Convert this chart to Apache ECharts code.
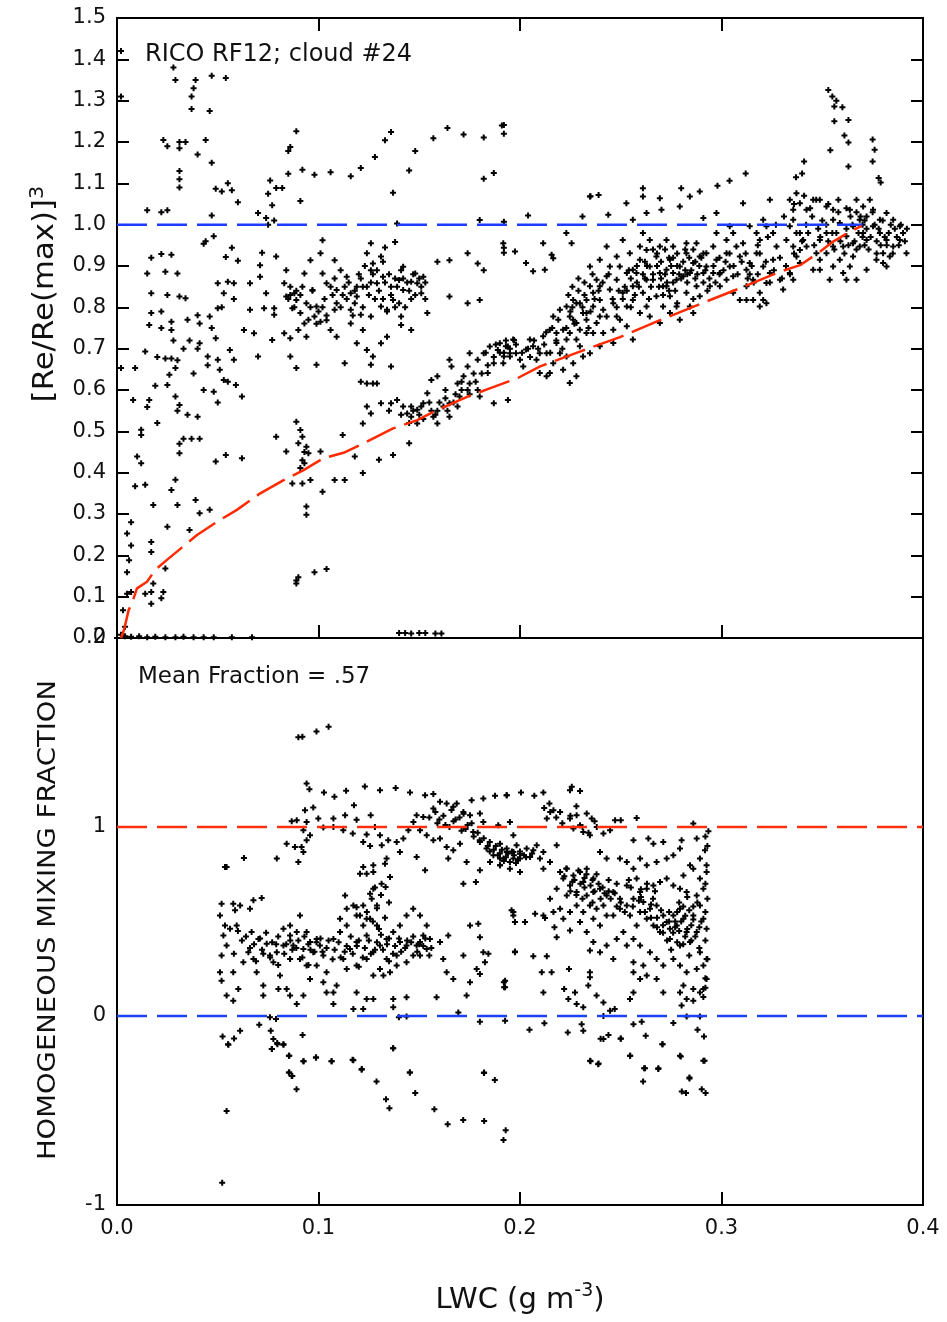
<!DOCTYPE html>
<html>
<head>
<meta charset="utf-8">
<script src="https://cdn.jsdelivr.net/npm/echarts@6/dist/echarts.min.js"></script>
<style>
  html, body { margin: 0; padding: 0; background: #fff; }
  #chart { width: 947px; height: 1322px; }
</style>
</head>
<body>
<div id="chart"></div>
<script>
// ---- data (LWC in g m-3) ----

// top panel: [Re/Re(max)]^3
var topHighOutliers = [
  [0.002,1.42],[0.002,1.31],[0.028,1.38],[0.029,1.35],[0.039,1.35],[0.038,1.33],[0.037,1.31],[0.037,1.28],
  [0.047,1.36],[0.054,1.355],[0.046,1.275],[0.023,1.205],[0.025,1.19],[0.031,1.2],[0.034,1.2],[0.031,1.185],
  [0.044,1.205],[0.040,1.17],[0.047,1.15],[0.031,1.13],[0.031,1.11],[0.031,1.09],[0.049,1.087],[0.052,1.08],
  [0.055,1.1],[0.057,1.083],[0.060,1.054],[0.015,1.035],[0.022,1.03],[0.025,1.035],[0.047,1.022],[0.070,1.028],
  [0.074,1.016],[0.078,1.01],[0.075,1.0],[0.075,1.075],[0.077,1.047],[0.076,1.107],[0.079,1.089],[0.082,1.089],
  [0.085,1.123],[0.085,1.178],[0.086,1.188],[0.089,1.226],[0.092,1.133],[0.091,1.057],[0.098,1.121],[0.106,1.127],
  [0.116,1.117],[0.121,1.137],[0.128,1.164],[0.133,1.204],[0.136,1.224],[0.137,1.077],[0.145,1.131],[0.148,1.178],
  [0.157,1.209],[0.164,1.234],[0.172,1.218],[0.182,1.211],[0.182,1.111],[0.187,1.125],[0.191,1.24],[0.192,1.22],
  [0.180,1.011],[0.192,1.007],[0.204,1.022],[0.192,0.944],[0.192,0.932],[0.139,1.003],
  [0.353,1.326],[0.355,1.31],[0.357,1.30],[0.356,1.286],[0.360,1.284],[0.356,1.25],[0.363,1.253],[0.361,1.216],
  [0.363,1.199],[0.354,1.18],[0.363,1.141],[0.375,1.206],[0.376,1.181],[0.375,1.153],[0.378,1.113],[0.379,1.102],
  [0.341,1.153],[0.340,1.124],[0.337,1.115],[0.312,1.124],[0.304,1.106],[0.298,1.094],[0.280,1.088],[0.261,1.088],
  [0.235,1.069],[0.192,1.241]
];
var topNearZero = [
  [0.0,0.0],[0.002,0.008],[0.004,0.004],[0.007,0.003],[0.011,0.004],[0.015,0.002],[0.019,0.003],[0.024,0.002],
  [0.029,0.002],[0.033,0.003],[0.038,0.002],[0.043,0.002],[0.048,0.002],[0.057,0.002],[0.067,0.002],
  [0.140,0.012],[0.143,0.012],[0.146,0.011],[0.150,0.012],[0.153,0.012],[0.158,0.011],[0.161,0.011]
];
var topLeftScatter = [
  [0.002,0.653],[0.009,0.653],[0.015,0.882],[0.017,0.834],[0.017,0.786],[0.016,0.757],[0.022,0.79],[0.025,0.83],
  [0.024,0.886],[0.030,0.882],[0.027,0.765],[0.022,0.75],[0.027,0.745],[0.031,0.826],[0.034,0.822],[0.014,0.693],
  [0.024,0.676],[0.027,0.676],[0.030,0.672],[0.029,0.653],[0.026,0.637],[0.025,0.612],[0.029,0.584],[0.031,0.564],
  [0.035,0.54],[0.040,0.535],[0.031,0.47],[0.033,0.482],[0.037,0.482],[0.041,0.482],[0.031,0.447],[0.029,0.383],
  [0.027,0.358],[0.030,0.322],[0.025,0.269],[0.036,0.261],[0.039,0.334],[0.041,0.302],[0.046,0.31],[0.012,0.504],
  [0.012,0.491],[0.010,0.439],[0.012,0.423],[0.008,0.576],[0.016,0.576],[0.015,0.559],[0.020,0.52],[0.014,0.371],
  [0.009,0.367],[0.018,0.322],[0.007,0.28],[0.005,0.253],[0.007,0.224],[0.006,0.188],[0.005,0.159],[0.017,0.232],
  [0.017,0.208],[0.024,0.168],[0.005,0.107],[0.007,0.111],[0.003,0.067],[0.004,0.027],[0.014,0.107],[0.017,0.111],
  [0.017,0.083],[0.023,0.111],[0.022,0.096],[0.018,0.132],
  [0.017,0.92],[0.022,0.929],[0.027,0.927],[0.043,0.954],[0.044,0.96],[0.048,0.972],[0.057,0.944],[0.054,0.922],
  [0.072,0.932],[0.060,0.913],[0.036,0.72],[0.040,0.70],[0.045,0.66],[0.033,0.70],[0.038,0.64],[0.043,0.60],
  [0.050,0.57],[0.055,0.62],[0.047,0.75],[0.052,0.80],[0.058,0.82],[0.035,0.77],[0.028,0.72],[0.020,0.68],
  [0.019,0.61],[0.030,0.55]
];
var topUpperCluster = [
  [0.040,0.781],[0.041,0.761],[0.046,0.778],[0.050,0.798],[0.053,0.834],[0.050,0.858],[0.055,0.862],[0.041,0.713],
  [0.045,0.681],[0.049,0.725],[0.050,0.673],[0.051,0.649],[0.053,0.624],[0.056,0.697],[0.058,0.673],[0.059,0.612],
  [0.062,0.584],[0.048,0.596],[0.063,0.745],[0.066,0.794],[0.068,0.737],[0.070,0.681],[0.071,0.902],[0.073,0.798],
  [0.078,0.798],[0.077,0.721],[0.079,0.923],[0.083,0.858],[0.084,0.89],[0.086,0.85],[0.084,0.826],[0.088,0.834],
  [0.089,0.818],[0.087,0.798],[0.091,0.786],[0.093,0.761],[0.083,0.737],[0.086,0.725],[0.090,0.745],[0.098,0.778],
  [0.099,0.802],[0.101,0.765],[0.097,0.842],[0.104,0.858],[0.102,0.882],[0.108,0.914],[0.109,0.842],[0.106,0.745],
  [0.109,0.729],[0.114,0.874],[0.116,0.834],[0.119,0.826],[0.118,0.81],[0.122,0.85],[0.126,0.89],[0.127,0.906],
  [0.131,0.923],[0.132,0.874],[0.129,0.858],[0.136,0.85],[0.140,0.866],[0.142,0.842],[0.146,0.862],[0.149,0.858],
  [0.152,0.874],[0.151,0.834],[0.154,0.786],[0.141,0.778],[0.141,0.757],[0.146,0.745],[0.131,0.802],[0.126,0.778],
  [0.122,0.745],[0.119,0.713],[0.124,0.697],[0.127,0.681],[0.131,0.713],[0.134,0.729],[0.126,0.661],[0.136,0.657],
  [0.113,0.665],[0.099,0.661],[0.089,0.653],[0.086,0.681],[0.078,0.782],[0.071,0.874],[0.074,0.834],[0.066,0.858],
  [0.058,0.858],[0.165,0.826],[0.174,0.81],[0.180,0.818],[0.182,0.89],[0.179,0.906],[0.159,0.91],[0.174,0.931],
  [0.165,0.914],[0.142,0.898],[0.148,0.882],[0.116,0.794],[0.108,0.794],[0.104,0.769],[0.094,0.729],[0.116,0.761],
  [0.121,0.782],[0.134,0.794],[0.137,0.818],[0.111,0.89],[0.093,0.882],[0.096,0.914],[0.101,0.931],[0.124,0.931],
  [0.102,0.962],[0.126,0.955],[0.133,0.945],[0.138,0.958],
  [0.085,0.82],[0.088,0.80],[0.091,0.83],[0.094,0.81],[0.097,0.84],[0.100,0.79],[0.103,0.82],[0.106,0.85],
  [0.109,0.81],[0.112,0.83],[0.115,0.86],[0.118,0.84],[0.121,0.87],[0.124,0.85],[0.127,0.88],[0.130,0.84],
  [0.133,0.86],[0.136,0.83],[0.139,0.85],[0.142,0.87],[0.145,0.84],[0.148,0.83],[0.151,0.85],[0.153,0.82],
  [0.140,0.81],[0.134,0.79],[0.128,0.82],[0.122,0.80],[0.117,0.78],[0.095,0.77],[0.099,0.76],[0.104,0.78],
  [0.120,0.88],[0.123,0.90],[0.126,0.86],[0.129,0.89],[0.132,0.91],[0.135,0.88],[0.138,0.87],[0.141,0.89],
  [0.144,0.86],[0.147,0.88],[0.150,0.87],[0.153,0.86],[0.146,0.82],[0.143,0.80],[0.138,0.80],[0.132,0.82],
  [0.125,0.83],[0.119,0.85],[0.113,0.85],[0.108,0.87],[0.092,0.85],[0.089,0.84],[0.086,0.83],[0.096,0.80],
  [0.102,0.80],[0.107,0.83],[0.111,0.80],[0.114,0.82]
];
var topStreak = [
  [0.089,0.523],[0.091,0.503],[0.092,0.487],[0.090,0.471],[0.094,0.463],[0.095,0.447],[0.093,0.423],[0.091,0.411],
  [0.087,0.374],[0.092,0.374],[0.096,0.382],[0.094,0.318],[0.094,0.298],[0.079,0.487],[0.084,0.451],[0.101,0.451],
  [0.102,0.354],[0.108,0.382],[0.113,0.382],[0.112,0.491],[0.118,0.439],[0.122,0.399],[0.130,0.431],[0.137,0.443],
  [0.145,0.471],[0.049,0.427],[0.054,0.443],[0.062,0.435],[0.089,0.139],[0.089,0.132],[0.090,0.147],[0.098,0.159],
  [0.104,0.167],[0.092,0.43],[0.093,0.45]
];
var topBandLow = [
  [0.121,0.62],[0.124,0.616],[0.127,0.616],[0.129,0.616],[0.124,0.56],[0.126,0.543],[0.122,0.519],[0.131,0.568],
  [0.136,0.568],[0.139,0.576],[0.142,0.56],[0.144,0.543],[0.146,0.56],[0.149,0.552],[0.152,0.568],[0.146,0.535],
  [0.149,0.519],[0.154,0.592],[0.156,0.624],[0.159,0.633],[0.157,0.535],[0.159,0.519],[0.162,0.56],[0.165,0.568],
  [0.165,0.535],[0.169,0.56],[0.170,0.584],[0.174,0.6],[0.175,0.616],[0.172,0.633],[0.179,0.6],[0.180,0.584],
  [0.174,0.657],[0.179,0.673],[0.182,0.689],[0.185,0.705],[0.189,0.697],[0.190,0.713],[0.194,0.705],[0.195,0.689],
  [0.192,0.681],[0.197,0.721],[0.187,0.665],[0.184,0.641],[0.165,0.673],[0.166,0.657],[0.175,0.689],[0.187,0.568],
  [0.194,0.576],[0.169,0.616],[0.163,0.6],
  [0.147,0.55],[0.151,0.56],[0.155,0.57],[0.159,0.55],[0.163,0.58],[0.167,0.57],[0.171,0.60],[0.175,0.59],
  [0.152,0.53],[0.158,0.54],
  [0.178,0.62],[0.181,0.64],[0.184,0.66],[0.187,0.68],[0.190,0.69],[0.193,0.72],[0.188,0.71],[0.183,0.69],
  [0.177,0.64],[0.171,0.62],[0.168,0.59],[0.164,0.55],[0.160,0.57],[0.156,0.55],[0.150,0.54],[0.145,0.52],
  [0.141,0.54],[0.135,0.55]
];
var topBandMain = [
  [0.193,0.706],[0.198,0.689],[0.203,0.698],[0.2065,0.706],[0.1966,0.722],[0.200,0.673],[0.1917,0.665],[0.2098,0.689],
  [0.2115,0.73],[0.2148,0.746],[0.2181,0.738],[0.2165,0.778],[0.2198,0.794],[0.2231,0.802],[0.2264,0.818],[0.2297,0.81],
  [0.2247,0.778],[0.228,0.762],[0.2313,0.786],[0.233,0.818],[0.2264,0.77],[0.2297,0.746],[0.233,0.738],[0.2297,0.706],
  [0.2313,0.681],[0.2347,0.689],[0.2231,0.722],[0.2198,0.689],[0.2165,0.665],[0.2148,0.641],[0.2132,0.633],[0.2247,0.617],
  [0.228,0.633],[0.2098,0.641],[0.2214,0.746],[0.2247,0.738],[0.228,0.722],[0.2231,0.681],[0.2264,0.665],[0.2214,0.649],
  [0.2181,0.714],[0.2132,0.689],[0.2082,0.673],[0.2016,0.657],[0.195,0.681],[0.2049,0.722],
  [0.2347,0.851],[0.238,0.867],[0.2396,0.851],[0.243,0.875],[0.2363,0.835],[0.2396,0.818],[0.2446,0.843],[0.248,0.867],
  [0.2495,0.899],[0.253,0.883],[0.251,0.835],[0.256,0.851],[0.2578,0.883],[0.2595,0.915],[0.2628,0.939],[0.2644,0.899],
  [0.266,0.867],[0.2677,0.923],[0.2694,0.883],[0.2727,0.891],[0.2744,0.915],[0.276,0.947],[0.2777,0.867],[0.2793,0.899],
  [0.2826,0.931],[0.2843,0.883],[0.286,0.907],[0.2876,0.955],[0.2892,0.923],[0.291,0.883],[0.2925,0.899],[0.2942,0.851],
  [0.2363,0.802],[0.2413,0.794],[0.2463,0.81],[0.243,0.778],[0.238,0.762],[0.248,0.778],[0.253,0.802],[0.256,0.818],
  [0.261,0.835],[0.2628,0.802],[0.2677,0.827],[0.271,0.851],[0.2744,0.827],[0.271,0.802],[0.2777,0.802],[0.2826,0.835],
  [0.2876,0.851],[0.2644,0.963],[0.2694,0.947],[0.2727,0.963],[0.2595,0.947],[0.2545,0.931],[0.248,0.923],[0.2396,0.915],
  [0.2446,0.899],[0.2347,0.899],[0.256,0.891],[0.2628,0.867],[0.2727,0.851],[0.276,0.883],[0.281,0.875],[0.2826,0.955],
  [0.261,0.98],[0.251,0.963],[0.243,0.947],[0.2396,0.778],[0.233,0.786],[0.2363,0.738],[0.2413,0.738],[0.2463,0.746],
  [0.2496,0.77],[0.2396,0.706],[0.2463,0.714],[0.253,0.754],[0.2595,0.786],[0.2644,0.778],[0.2694,0.762],[0.2744,0.786],
  [0.2793,0.77],[0.2843,0.802],[0.286,0.786],[0.2892,0.827],[0.256,0.722],
  [0.262,0.87],[0.265,0.85],[0.268,0.90],[0.270,0.87],[0.273,0.86],[0.275,0.90],[0.277,0.84],[0.279,0.88],
  [0.281,0.91],[0.283,0.86],[0.285,0.89],[0.287,0.87],[0.289,0.90],[0.291,0.86],[0.268,0.93],[0.272,0.94],
  [0.276,0.92],[0.282,0.94],[0.264,0.82],[0.271,0.83],[0.278,0.81],[0.286,0.82],[0.293,0.84],[0.296,0.90],
  [0.299,0.92],[0.301,0.89],[0.258,0.86],[0.255,0.87],[0.252,0.85],[0.249,0.84],
  [0.225,0.79],[0.228,0.81],[0.231,0.80],[0.233,0.77],[0.227,0.76],[0.235,0.79],[0.237,0.82],[0.229,0.84],
  [0.224,0.83],[0.232,0.83],[0.226,0.80],[0.234,0.75],
  [0.195,0.70],[0.198,0.71],[0.201,0.69],[0.204,0.70],[0.207,0.72],[0.192,0.69],
  [0.205,0.68],[0.209,0.70],[0.212,0.71],[0.215,0.69],[0.218,0.72],[0.221,0.70],[0.223,0.75],[0.219,0.77],
  [0.216,0.75],[0.213,0.74],[0.226,0.85],[0.229,0.87],[0.232,0.86],[0.236,0.88],[0.239,0.84],[0.241,0.86],
  [0.244,0.88],[0.246,0.82],[0.248,0.80],[0.251,0.82],[0.253,0.84],[0.255,0.80],[0.257,0.83],[0.259,0.85],
  [0.261,0.88],[0.263,0.90],[0.266,0.88],[0.269,0.85],[0.272,0.88],[0.274,0.84],[0.276,0.86],[0.278,0.90],
  [0.280,0.87],[0.282,0.89],[0.284,0.92],[0.286,0.94],[0.288,0.88],[0.290,0.92],[0.292,0.89],[0.294,0.87],
  [0.297,0.86],[0.299,0.88],[0.302,0.91],[0.304,0.93],[0.306,0.90],[0.308,0.88],[0.310,0.91],[0.312,0.93],
  [0.314,0.88],[0.316,0.86],[0.262,0.91],[0.266,0.94],[0.270,0.91],[0.274,0.92],[0.278,0.93],[0.283,0.88],
  [0.287,0.91],[0.291,0.93],[0.258,0.90],[0.254,0.89]
];
var topBandRight = [
  [0.2975,0.915],[0.2992,0.883],[0.3025,0.931],[0.3041,0.899],[0.3058,0.875],[0.3091,0.923],[0.3107,0.955],[0.3124,0.891],
  [0.314,0.907],[0.3157,0.867],[0.3174,0.931],[0.319,0.963],[0.3207,0.899],[0.3223,0.859],[0.324,0.883],[0.3207,0.818],
  [0.3157,0.818],[0.3124,0.851],[0.3256,0.915],[0.3273,0.947],[0.329,0.867],[0.3306,0.843],[0.3322,0.963],[0.3356,0.947],
  [0.3372,0.923],[0.3389,0.907],[0.3405,0.963],[0.3339,1.06],[0.3372,1.076],[0.3389,1.052],[0.3422,1.036],[0.3455,1.06],
  [0.3488,1.06],[0.3521,1.044],[0.3554,1.036],[0.3356,1.012],[0.3389,0.98],[0.3422,0.947],[0.3471,0.931],[0.3455,0.891],
  [0.3488,0.915],[0.3521,0.931],[0.3554,0.947],[0.3587,0.915],[0.3604,0.883],[0.3637,0.899],[0.3653,0.923],[0.3686,0.947],
  [0.362,0.972],[0.3653,0.996],[0.3686,1.012],[0.372,1.02],[0.3637,1.036],[0.367,1.06],[0.3703,1.044],[0.3736,1.06],
  [0.3752,0.996],[0.3786,0.98],[0.3819,0.963],[0.3852,0.947],[0.3802,0.931],[0.3835,0.923],[0.3885,0.996],[0.3901,0.98],
  [0.3918,0.931],[0.3802,0.907],[0.3769,0.915],[0.3703,0.98],[0.372,0.963],[0.3653,0.955],[0.3604,0.947],[0.357,0.98],
  [0.3587,1.004],[0.3554,1.012],[0.3521,0.98],[0.3488,0.963],[0.3752,1.036],[0.3819,1.028],[0.3852,1.012],[0.3786,1.012],
  [0.372,0.891],[0.367,0.867],[0.3819,0.899],[0.3885,0.963],[0.3339,0.996],[0.3356,1.036],[0.3372,0.98],[0.3389,0.939],
  [0.3339,0.883],[0.3356,0.867],[0.3256,0.98],[0.3223,0.996],[0.3174,0.98],[0.3058,0.98],[0.3074,0.947],[0.3025,0.963],
  [0.2975,0.98],[0.2959,0.947],[0.3058,0.835],[0.3091,0.818],[0.3124,0.818],[0.319,0.835],[0.3223,0.81],[0.319,0.802],
  [0.2992,0.851],[0.3025,0.867],[0.2959,0.883],[0.2925,0.931],[0.3554,0.899],[0.362,0.867],[0.3537,0.867],[0.3488,0.891],
  [0.2115,0.955],[0.223,0.98],[0.2256,0.955],[0.231,1.02],[0.2347,1.068],[0.239,1.072],[0.2438,1.024],[0.2528,1.052],
  [0.256,1.012],[0.261,1.068],[0.2628,1.028],[0.2694,1.064],[0.2702,1.036],[0.2793,1.044],[0.2843,1.068],[0.2892,1.08],
  [0.291,1.016],[0.2975,1.028],[0.3041,0.996],[0.3107,1.052],[0.314,0.996],[0.324,1.06],[0.3207,1.012],
  [0.1917,0.955],[0.1975,0.935],[0.203,0.907],[0.2065,0.887],[0.2157,0.927],[0.2165,0.919],[0.2123,0.891],
  [0.315,0.90],[0.318,0.88],[0.322,0.91],[0.326,0.89],[0.329,0.92],[0.332,0.90],[0.334,0.88],[0.336,0.93],
  [0.319,0.93],[0.313,0.87],[0.324,0.86],[0.330,0.87],
  [0.362,0.99],[0.365,1.00],[0.368,0.98],[0.370,1.00],[0.372,0.99],[0.374,0.97],[0.376,1.00],[0.378,0.99],
  [0.380,1.01],[0.383,0.98],[0.386,0.99],[0.389,1.00],[0.366,0.96],[0.371,0.95],[0.377,0.96],[0.382,0.95],
  [0.369,1.02],[0.375,1.03],[0.364,1.02],[0.387,0.97],[0.391,0.96],[0.392,0.99],
  [0.342,1.00],[0.345,1.02],[0.348,0.99],[0.350,1.01],[0.352,1.00],[0.355,0.98],[0.344,1.04],[0.358,1.03],
  [0.340,0.96],[0.343,0.98],[0.346,0.95],[0.349,0.97],[0.353,0.96],[0.356,0.94],[0.359,0.96],[0.361,0.93],
  [0.363,0.95],[0.367,0.94],[0.370,0.97],[0.373,0.94],[0.377,0.93],[0.381,0.97],[0.384,1.00],[0.388,0.95],
  [0.385,0.93],[0.379,0.95],[0.371,1.01],[0.367,1.03],[0.362,1.04],[0.358,1.06],[0.353,1.05],[0.347,1.06],
  [0.341,1.07],[0.336,1.05],[0.331,1.02],[0.327,1.00],[0.323,0.97],[0.318,0.95]
];
// homogeneous-mixing curve and the Re = Re(max) line (top panel)
var homogCurve = [
  [0.002,0],[0.0035,0.02],[0.0058,0.068],[0.0074,0.084],[0.0099,0.12],[0.0149,0.136],[0.019,0.165],[0.0248,0.189],
  [0.032,0.218],[0.0397,0.249],[0.0496,0.281],[0.0595,0.31],[0.0711,0.35],[0.0827,0.382],[0.0926,0.406],[0.1025,0.435],
  [0.1124,0.448],[0.124,0.475],[0.137,0.507],[0.149,0.527],[0.159,0.552],[0.174,0.584],[0.185,0.604],[0.1985,0.628],
  [0.21,0.657],[0.2297,0.693],[0.2496,0.728],[0.2695,0.769],[0.2893,0.808],[0.309,0.846],[0.329,0.886],[0.339,0.902],
  [0.349,0.935],[0.3554,0.959],[0.3638,0.983],[0.3695,0.997]
];
var topRefX = [0, 0.37];
var topRefY = 1;

// bottom panel: homogeneous mixing fraction
var bottomHigh = [[0.090,1.475],[0.092,1.478],[0.099,1.505],[0.105,1.53]];
var bottomUpper = [
  [0.0941,1.23],[0.0955,1.2],[0.1027,1.183],[0.1079,1.16],[0.1137,1.192],[0.123,1.214],[0.1305,1.195],[0.1383,1.207],
  [0.1454,1.183],[0.1529,1.168],[0.157,1.174],[0.1176,1.115],[0.1259,1.062],[0.1189,1.039],[0.1132,1.062],[0.1074,1.045],
  [0.0999,1.045],[0.0974,1.103],[0.0933,1.089],[0.0941,1.027],[0.0892,1.036],[0.0867,1.031],[0.0925,0.983],[0.0958,0.956],
  [0.0941,0.93],[0.0916,0.894],[0.0925,0.868],[0.09,0.815],[0.0883,0.894],[0.0842,0.912],[0.0793,0.833],[0.063,0.836],
  [0.0544,0.788],[0.0536,0.788],[0.1024,0.997],[0.1074,1.0],[0.1123,0.983],[0.117,0.965],[0.1239,0.96],[0.128,1.0],
  [0.1305,0.956],[0.1222,0.921],[0.1256,0.9],[0.1314,0.903],[0.1346,0.93],[0.1388,0.921],[0.1421,0.939],[0.1446,0.983],
  [0.1471,1.027],[0.1487,1.062],[0.152,1.053],[0.157,1.098],[0.1603,1.133],[0.1636,1.124],[0.1669,1.107],[0.1686,1.124],
  [0.1719,1.08],[0.1752,1.062],[0.1801,1.071],[0.1818,1.027],[0.176,1.142],[0.1818,1.151],[0.1876,1.165],[0.1934,1.168],
  [0.1504,0.983],[0.1537,0.956],[0.157,0.93],[0.1603,0.939],[0.1636,0.894],[0.1669,0.877],[0.1644,0.833],[0.1735,0.815],
  [0.1702,0.912],[0.1768,0.974],[0.1801,0.921],[0.1834,0.886],[0.1868,0.85],[0.1901,0.833],[0.1934,0.868],[0.1967,0.833],
  [0.1983,0.903],[0.1851,0.815],[0.1901,0.797],[0.195,0.779],[0.1801,0.771],[0.1719,0.7],[0.1781,0.709],[0.1892,1.009],
  [0.195,1.027],[0.1404,0.868],[0.1487,0.841],[0.1529,0.771],[0.1338,0.833],[0.1272,0.797],[0.1222,0.788],[0.1239,0.753],
  [0.1206,0.753],[0.1272,0.762],[0.133,0.806],[0.1355,0.735],[0.1313,0.7],[0.1333,0.682],[0.1272,0.673],[0.1256,0.647],
  [0.1264,0.62],[0.129,0.585],[0.1222,0.585],[0.1189,0.576],[0.1132,0.638],[0.1206,0.532],[0.1239,0.514],
  [0.155,1.05],[0.159,1.02],[0.162,1.06],[0.165,1.00],[0.168,1.04],[0.171,0.98],[0.174,1.01],[0.177,0.95],
  [0.180,0.93],[0.184,0.90],[0.187,0.88],[0.190,0.86],[0.193,0.84],[0.196,0.87],[0.199,0.83],[0.202,0.85],
  [0.158,1.08],[0.166,1.09],[0.172,1.07],
  [0.160,1.04],[0.163,1.01],[0.167,1.03],[0.170,1.05],[0.173,0.99],[0.176,1.02],[0.179,0.97],[0.182,0.94],
  [0.185,0.92],[0.188,0.90],[0.191,0.88],[0.194,0.86],[0.197,0.85],[0.200,0.87],[0.203,0.84],[0.206,0.86],
  [0.189,0.85],[0.185,0.87],[0.192,0.82],[0.198,0.81]
];
var bottomLeftCluster = [
  [0.0519,0.594],[0.0577,0.594],[0.0611,0.585],[0.0586,0.559],[0.0677,0.612],[0.0718,0.624],[0.066,0.567],[0.0511,0.532],
  [0.0536,0.479],[0.0561,0.461],[0.0594,0.479],[0.0528,0.426],[0.0544,0.373],[0.0519,0.32],[0.0511,0.231],[0.0519,0.187],
  [0.0544,0.108],[0.0577,0.081],[0.0602,0.143],[0.0577,0.231],[0.0627,0.284],[0.0652,0.337],[0.0677,0.302],[0.0693,0.231],
  [0.0726,0.161],[0.0726,0.108],[0.0668,0.444],[0.0702,0.408],[0.0743,0.382],[0.0726,0.329],[0.0759,0.32],[0.0793,0.337],
  [0.0776,0.284],[0.0809,0.214],[0.0801,0.143],[0.0842,0.143],[0.0826,0.461],[0.0859,0.479],[0.0859,0.426],[0.0892,0.444],
  [0.0908,0.532],[0.0941,0.444],[0.0826,0.373],[0.0875,0.373],[0.0859,0.302],[0.0908,0.302],[0.0925,0.355],[0.0958,0.391],
  [0.0991,0.408],[0.1007,0.373],[0.0974,0.337],[0.0941,0.267],[0.0991,0.267],[0.1024,0.32],[0.104,0.231],[0.1024,0.178],
  [0.104,0.125],[0.1074,0.125],[0.109,0.161],[0.0958,0.196],[0.0925,0.108],[0.0859,0.108],[0.0892,0.063],[0.1074,0.408],
  [0.1107,0.444],[0.114,0.479],[0.1107,0.514],[0.114,0.567],[0.1173,0.585],[0.1189,0.532],[0.1222,0.479],[0.1256,0.514],
  [0.129,0.479],[0.1239,0.426],[0.1189,0.391],[0.1156,0.355],[0.1123,0.302],[0.114,0.249],[0.1189,0.267],[0.1239,0.302],
  [0.1272,0.337],[0.1305,0.373],[0.1338,0.408],[0.1371,0.444],[0.1404,0.479],[0.1437,0.532],[0.147,0.567],[0.1504,0.532],
  [0.1537,0.479],[0.152,0.426],[0.1487,0.373],[0.147,0.32],[0.1437,0.373],[0.1404,0.391],[0.1388,0.32],[0.1338,0.302],
  [0.1305,0.249],[0.1272,0.214],[0.1322,0.214],[0.1355,0.231],[0.1388,0.267],[0.1437,0.284],[0.1504,0.32],[0.1504,0.391],
  [0.1553,0.408],[0.1537,0.355],[0.1189,0.125],[0.1239,0.09],[0.1272,0.09],[0.1371,0.09],[0.1371,0.046],[0.1437,0.099],
  [0.1222,0.037],[0.1173,0.037],[0.1074,0.063],[0.1586,0.099],[0.1603,0.391],[0.1644,0.426],[0.1619,0.302],[0.1636,0.231],
  [0.1669,0.196],[0.1719,0.32],[0.1735,0.108],[0.1752,0.178],[0.1752,0.479],[0.1793,0.488],[0.1801,0.417],[0.1818,0.337],
  [0.1826,0.284],[0.1785,0.249],[0.1801,0.222],[0.1843,0.329],[0.1694,0.019],[0.1926,0.187],[0.1921,0.152],[0.1975,0.337],
  [0.1975,0.497],[0.1958,0.559],[0.1967,0.532],
  [0.072,0.35],[0.076,0.31],[0.079,0.38],[0.083,0.33],[0.086,0.40],[0.089,0.36],[0.092,0.31],[0.095,0.38],
  [0.098,0.34],[0.101,0.41],[0.104,0.36],[0.107,0.30],[0.110,0.39],[0.113,0.34],[0.116,0.42],[0.119,0.37],
  [0.122,0.31],[0.125,0.40],[0.128,0.35],[0.131,0.43],[0.134,0.38],[0.137,0.33],[0.140,0.41],[0.143,0.36],
  [0.146,0.39],[0.149,0.34],[0.152,0.37],[0.155,0.32],[0.062,0.40],[0.066,0.36],[0.058,0.33],[0.069,0.29],
  [0.080,0.27],[0.095,0.27],[0.120,0.26],[0.135,0.29],
  [0.060,0.45],[0.064,0.42],[0.068,0.38],[0.071,0.41],[0.074,0.44],[0.077,0.39],[0.080,0.42],[0.084,0.38],
  [0.087,0.35],[0.090,0.40],[0.093,0.42],[0.096,0.35],[0.099,0.39],[0.102,0.34],[0.105,0.40],[0.108,0.35],
  [0.111,0.31],[0.114,0.37],[0.117,0.33],[0.120,0.40],[0.123,0.36],[0.126,0.33],[0.129,0.39],[0.132,0.35],
  [0.135,0.41],[0.138,0.37],[0.141,0.34],[0.144,0.40],[0.147,0.42],[0.150,0.38],[0.153,0.41],[0.156,0.36],
  [0.130,0.46],[0.127,0.50],[0.133,0.52],[0.124,0.55],[0.129,0.57],[0.135,0.60],[0.131,0.64],[0.128,0.68]
];
var bottomRightCluster = [
  [0.1934,1.168],[0.2005,1.183],[0.2071,1.165],[0.2116,1.183],[0.2248,1.195],[0.2298,1.19],[0.2257,1.213],[0.2146,1.124],
  [0.2166,1.089],[0.2133,1.045],[0.2199,1.08],[0.2248,1.045],[0.2281,1.062],[0.2331,1.071],[0.2356,1.045],[0.2298,1.009],
  [0.2265,0.992],[0.2314,0.974],[0.2347,0.956],[0.2381,1.0],[0.2414,0.965],[0.2447,0.983],[0.2472,1.036],[0.25,1.036],
  [0.2579,1.048],[0.286,1.018],[0.2935,0.978],[0.2563,0.93],[0.2637,0.939],[0.2662,0.912],[0.2711,0.921],[0.2802,0.93],
  [0.2877,0.939],[0.2397,0.868],[0.243,0.833],[0.2496,0.833],[0.253,0.815],[0.2596,0.833],[0.2629,0.797],[0.2678,0.815],
  [0.2728,0.833],[0.2761,0.85],[0.2794,0.886],[0.2844,0.797],[0.2893,0.833],[0.2926,0.797],[0.2918,0.877],
  [0.1901,0.912],[0.1934,0.886],[0.1967,0.868],[0.2,0.859],[0.2033,0.886],[0.2066,0.877],[0.1918,0.833],[0.195,0.815],
  [0.2,0.833],[0.205,0.841],[0.2083,0.903],[0.2099,0.833],[0.1967,0.956],[0.1901,0.797],[0.2,0.762],[0.2116,0.868],
  [0.2149,0.815],[0.2116,0.779],[0.2182,0.903],
  [0.2199,0.762],[0.2232,0.779],[0.2265,0.744],[0.2298,0.762],[0.2331,0.779],[0.2364,0.727],[0.2314,0.709],[0.2248,0.691],
  [0.2215,0.727],[0.2182,0.673],[0.2232,0.638],[0.2281,0.656],[0.2331,0.638],[0.2364,0.656],[0.2397,0.673],[0.243,0.638],
  [0.2463,0.656],[0.2496,0.62],[0.2281,0.585],[0.2314,0.55],[0.2347,0.585],[0.238,0.567],[0.2248,0.55],[0.2199,0.567],
  [0.2215,0.514],[0.2298,0.497],[0.2364,0.514],[0.2397,0.479],[0.243,0.532],[0.2414,0.585],[0.2149,0.62],[0.2166,0.55],
  [0.2116,0.532],[0.2248,0.452],[0.2331,0.444],[0.2364,0.391],[0.2347,0.346],[0.2397,0.337],[0.243,0.373],[0.2463,0.302],
  [0.248,0.408],[0.2513,0.444],[0.253,0.373],[0.2463,0.532],[0.2496,0.567],[0.253,0.585],[0.2546,0.532],[0.2563,0.62],
  [0.253,0.691],[0.2579,0.727],[0.2563,0.779],
  [0.2596,0.656],[0.2629,0.673],[0.2662,0.691],[0.2695,0.709],[0.2728,0.727],[0.2761,0.691],[0.2794,0.673],[0.2827,0.656],
  [0.2877,0.638],[0.291,0.673],[0.2893,0.727],[0.2926,0.762],[0.286,0.779],[0.2811,0.744],[0.2612,0.603],[0.2645,0.567],
  [0.2678,0.585],[0.2711,0.532],[0.2728,0.497],[0.2744,0.461],[0.2761,0.532],[0.2794,0.567],[0.2778,0.479],[0.2811,0.514],
  [0.2827,0.444],[0.286,0.532],[0.2893,0.585],[0.291,0.514],[0.2926,0.461],[0.2877,0.444],[0.2844,0.391],[0.2794,0.373],
  [0.2744,0.408],[0.2695,0.444],[0.2662,0.479],[0.2629,0.514],[0.2596,0.55],[0.2579,0.479],[0.2563,0.408],[0.2596,0.373],
  [0.2645,0.337],[0.2678,0.302],[0.2711,0.267],[0.2761,0.302],[0.2794,0.267],[0.2827,0.231],[0.2877,0.249],[0.291,0.267],
  [0.2926,0.302],[0.2893,0.337],[0.2926,0.196],[0.291,0.143],[0.2893,0.125],[0.286,0.143],[0.2811,0.161],[0.2794,0.125],
  [0.2827,0.09],[0.286,0.081],[0.2802,0.055],[0.2711,0.125],[0.2678,0.196],[0.2629,0.214],[0.2596,0.196],[0.2563,0.231],
  [0.2563,0.284],[0.2612,0.267],
  [0.1967,0.55],[0.1975,0.497],[0.2025,0.497],[0.2075,0.541],[0.2124,0.518],[0.2171,0.47],[0.2182,0.417],[0.1975,0.341],
  [0.2066,0.316],[0.2133,0.316],[0.2157,0.231],[0.2243,0.249],[0.2219,0.143],[0.224,0.09],[0.2281,0.063],[0.2314,0.046],
  [0.2273,0.125],[0.2339,0.161],[0.238,0.108],[0.2414,0.072],[0.2447,0.028],[0.247,0.037],[0.2347,0.231],[0.2347,0.205],
  [0.192,0.178],[0.1926,0.152],[0.2116,0.125],[0.2108,0.231],[0.2563,0.125],[0.2546,0.09],
  [0.222,0.74],[0.226,0.71],[0.229,0.77],[0.232,0.73],[0.235,0.69],[0.238,0.75],[0.225,0.66],[0.231,0.62],
  [0.236,0.60],[0.241,0.68],[0.244,0.72],[0.247,0.65],[0.250,0.60],[0.255,0.68],[0.260,0.63],[0.265,0.59],
  [0.268,0.52],[0.271,0.48],[0.274,0.55],[0.277,0.50],[0.279,0.45],[0.282,0.53],[0.285,0.48],[0.287,0.42],
  [0.290,0.50],[0.276,0.44],[0.273,0.40],[0.281,0.38],[0.284,0.32],[0.289,0.36],[0.279,0.60],[0.283,0.63],
  [0.286,0.58],[0.292,0.55],[0.267,0.66],[0.263,0.70],
  [0.212,1.10],[0.215,1.08],[0.218,1.05],[0.221,1.02],[0.225,1.06],[0.228,1.11],[0.231,1.00],[0.234,0.97],[0.237,1.03],
  [0.292,0.95],[0.293,0.90],[0.292,0.70],[0.293,0.62],[0.292,0.40],[0.293,0.30],[0.292,0.20],[0.291,0.10],[0.292,0.15],
  [0.223,0.78],[0.227,0.72],[0.230,0.70],[0.233,0.75],[0.236,0.72],[0.239,0.70],[0.242,0.65],[0.245,0.62],
  [0.248,0.58],[0.252,0.55],[0.256,0.58],[0.259,0.61],[0.262,0.55],[0.265,0.52],[0.268,0.47],[0.271,0.44],
  [0.274,0.50],[0.277,0.47],[0.280,0.50],[0.283,0.46],[0.286,0.51],[0.289,0.47],[0.282,0.42],[0.278,0.39],
  [0.275,0.35],[0.285,0.40],[0.270,0.56],[0.266,0.62],[0.260,0.67],[0.254,0.72],[0.248,0.70],[0.244,0.66],
  [0.240,0.62],[0.237,0.66],[0.232,0.68],[0.228,0.64],[0.284,0.56],[0.288,0.60],[0.278,0.55],[0.281,0.58]
];
var bottomNegative = [
  [0.0524,-0.108],[0.0553,-0.152],[0.0581,-0.119],[0.0611,-0.078],[0.0706,-0.046],[0.0759,-0.007],[0.0763,-0.078],
  [0.0776,-0.122],[0.0768,-0.175],[0.0796,-0.149],[0.0826,-0.152],[0.0789,-0.016],[0.0855,-0.21],[0.0925,-0.24],
  [0.0921,-0.1],[0.0988,-0.219],[0.1065,-0.24],[0.1173,-0.234],[0.1214,-0.285],[0.1371,-0.17],[0.1454,-0.299],
  [0.1821,-0.302],[0.1801,-0.03],[0.1926,-0.025],[0.0855,-0.299],[0.0867,-0.317],[0.1437,-0.002],[0.1399,-0.007],
  [0.2047,-0.073],[0.2121,-0.039],[0.2237,-0.087],[0.2306,-0.043],[0.2314,-0.078],[0.2414,0.0],
  [0.2439,-0.101],[0.2414,-0.122],[0.25,-0.119],[0.2563,-0.043],[0.2604,-0.03],[0.2624,-0.104],[0.2707,-0.149],
  [0.2761,-0.037],[0.2827,-0.002],[0.2881,-0.073],[0.2893,-0.002],[0.2913,-0.108],[0.2794,-0.21],[0.291,-0.237],
  [0.2348,-0.237],[0.239,-0.251],[0.2546,-0.21],[0.2616,-0.276],[0.2687,-0.276],[0.2841,-0.325],
  [0.0522,-0.882],[0.0544,-0.502],[0.0551,-0.149],[0.0769,-0.175],[0.0795,-0.143],[0.0826,-0.149],[0.0853,-0.21],
  [0.0853,-0.299],[0.087,-0.317],[0.0891,-0.387],[0.0926,-0.24],[0.0987,-0.219],[0.1065,-0.24],[0.1169,-0.232],
  [0.1215,-0.281],[0.1288,-0.347],[0.1335,-0.44],[0.1352,-0.488],[0.137,-0.17],[0.1453,-0.299],[0.148,-0.408],
  [0.1575,-0.493],[0.1641,-0.573],[0.1718,-0.55],[0.1822,-0.299],[0.1875,-0.338],[0.1822,-0.555],[0.1929,-0.605],
  [0.1918,-0.656],[0.235,-0.24],[0.2388,-0.255],[0.2547,-0.21],[0.262,-0.276],[0.2611,-0.347],[0.2686,-0.281],
  [0.2707,-0.149],[0.2798,-0.214],[0.2841,-0.331],[0.2803,-0.4],[0.2824,-0.408],[0.2916,-0.237],[0.2902,-0.387],
  [0.2921,-0.408],[0.24,-0.12],[0.25,-0.12]
];
var bottomRefX = [0, 0.4];
var bottomFullLine = 1;
var bottomZeroLine = 0;

// ---- chart ----
var myChart = echarts.init(document.getElementById('chart'));
var FONT = 'DejaVu Sans';
// small bold "+" marker
var plusMark = 'path://M2,0L4,0L4,2L6,2L6,4L4,4L4,6L2,6L2,4L0,4L0,2L2,2Z';

function frameAxis(grid, pos, min, max, step, tickLen, labels, fmt) {
  return {
    type: 'value', gridIndex: grid, position: pos, min: min, max: max, interval: step,
    axisLine: { show: true, onZero: false, lineStyle: { color: '#000', width: 2 } },
    axisTick: { show: tickLen > 0, inside: true, length: tickLen, lineStyle: { color: '#000', width: 2 } },
    axisLabel: {
      show: labels, formatter: fmt, fontFamily: FONT, fontSize: 21, color: '#111',
      margin: (pos === 'bottom') ? 13 : 11
    },
    splitLine: { show: false }
  };
}
function oneDec(v) { return v.toFixed(1); }
function intLab(v) { return String(Math.round(v)); }

function refLine(xs, y) { return xs.map(function (x) { return [x, y]; }); }

var option = {
  animation: false,
  backgroundColor: '#ffffff',
  grid: [
    { left: 117, top: 18, width: 806, height: 620 },
    { left: 117, top: 638, width: 806, height: 567 }
  ],
  xAxis: [
    frameAxis(0, 'bottom', 0, 0.4, 0.1, 13, false, oneDec),
    frameAxis(0, 'top', 0, 0.4, 0.1, 13, false, oneDec),
    frameAxis(1, 'bottom', 0, 0.4, 0.1, 13, true, oneDec),
    frameAxis(1, 'top', 0, 0.4, 0.1, 0, false, oneDec)
  ],
  yAxis: [
    frameAxis(0, 'left', 0, 1.5, 0.1, 12, true, oneDec),
    frameAxis(0, 'right', 0, 1.5, 0.1, 12, false, oneDec),
    frameAxis(1, 'left', -1, 2, 1, 0, true, intLab),
    frameAxis(1, 'right', -1, 2, 1, 0, false, intLab)
  ],
  series: [
    {
      name: 'top points', type: 'scatter', xAxisIndex: 0, yAxisIndex: 0,
      symbol: plusMark, symbolSize: 6, itemStyle: { color: '#000', opacity: 1 },
      data: [].concat(topHighOutliers, topNearZero, topLeftScatter, topUpperCluster,
                      topStreak, topBandLow, topBandMain, topBandRight)
    },
    {
      name: 'Re max', type: 'line', xAxisIndex: 0, yAxisIndex: 0, z: 5,
      showSymbol: false, data: refLine(topRefX, topRefY),
      lineStyle: { color: '#1e3cff', width: 2.5, type: [30, 10], opacity: 1 }
    },
    {
      name: 'homogeneous', type: 'line', xAxisIndex: 0, yAxisIndex: 0, z: 5,
      showSymbol: false, data: homogCurve,
      lineStyle: { color: '#ff2a00', width: 2.5, type: [32, 9], opacity: 1 }
    },
    {
      name: 'bottom points', type: 'scatter', xAxisIndex: 2, yAxisIndex: 2,
      symbol: plusMark, symbolSize: 6, itemStyle: { color: '#000', opacity: 1 },
      data: [].concat(bottomHigh, bottomUpper, bottomLeftCluster, bottomRightCluster, bottomNegative)
    },
    {
      name: 'one', type: 'line', xAxisIndex: 2, yAxisIndex: 2, z: 5,
      showSymbol: false, data: refLine(bottomRefX, bottomFullLine),
      lineStyle: { color: '#ff3010', width: 2.5, type: [30, 10], opacity: 1 }
    },
    {
      name: 'zero', type: 'line', xAxisIndex: 2, yAxisIndex: 2, z: 5,
      showSymbol: false, data: refLine(bottomRefX, bottomZeroLine),
      lineStyle: { color: '#1f3ff5', width: 2.5, type: [30, 10], opacity: 1 }
    }
  ],
  graphic: [
    {
      type: 'text', x: 145, y: 55,
      style: { text: 'RICO RF12; cloud #24', font: '24px "DejaVu Sans"', fill: '#111', verticalAlign: 'middle' }
    },
    {
      type: 'text', x: 138, y: 677,
      style: { text: 'Mean Fraction = .57', font: '23px "DejaVu Sans"', fill: '#111', verticalAlign: 'middle' }
    },
    {
      type: 'text', x: 46, y: 294, rotation: Math.PI / 2, scaleX: 1.1,
      style: {
        text: '{n|[Re/Re(max)]}{s|3}', align: 'center', verticalAlign: 'middle',
        rich: {
          n: { font: '28px "DejaVu Sans"', fill: '#111', lineHeight: 34 },
          s: { font: '19px "DejaVu Sans"', fill: '#111', verticalAlign: 'top', lineHeight: 34 }
        }
      }
    },
    {
      type: 'text', x: 48, y: 920, rotation: Math.PI / 2, scaleX: 1.1,
      style: {
        text: 'HOMOGENEOUS MIXING FRACTION', font: '25px "DejaVu Sans"', fill: '#111',
        align: 'center', verticalAlign: 'middle'
      }
    },
    {
      type: 'text', x: 520, y: 1300,
      style: {
        text: '{n|LWC (g m}{s|-3}{n|)}', align: 'center', verticalAlign: 'middle',
        rich: {
          n: { font: '29px "DejaVu Sans"', fill: '#111', lineHeight: 36 },
          s: { font: '19px "DejaVu Sans"', fill: '#111', verticalAlign: 'top', lineHeight: 36 }
        }
      }
    }
  ]
};

myChart.setOption(option);
</script>
</body>
</html>
